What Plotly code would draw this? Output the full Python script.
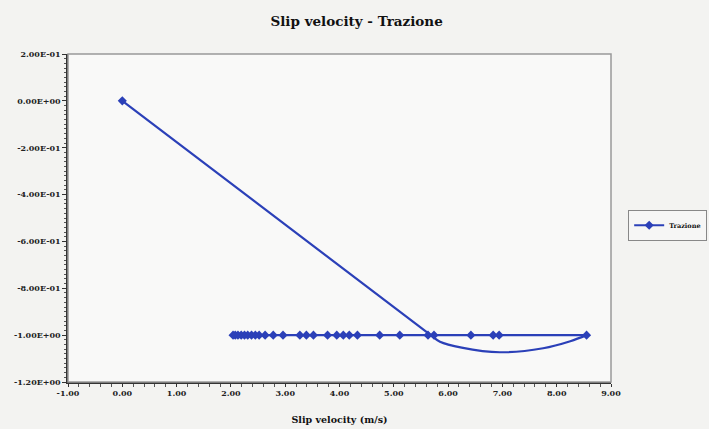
import plotly.graph_objects as go

# Diagonal + smoothed dip
curve_x = [0.00, 5.68, 5.85, 6.25, 6.95, 7.75, 8.25, 8.55]
curve_y = [0.00, -1.000, -1.028, -1.053, -1.073, -1.056, -1.026, -1.000]

# Points lying on the -1.00 line
flat_x = [8.55, 6.94, 6.83, 6.42, 5.74, 5.63, 5.11, 4.74, 4.33, 4.18, 4.07, 3.95,
          3.78, 3.52, 3.39, 3.27, 2.96, 2.78, 2.63, 2.52, 2.45, 2.38, 2.31, 2.25,
          2.19, 2.13, 2.08, 2.04]
flat_y = [-1.0] * len(flat_x)

x_tickvals = [-1, 0, 1, 2, 3, 4, 5, 6, 7, 8, 9]
x_ticktext = ["-1.00", "0.00", "1.00", "2.00", "3.00", "4.00", "5.00", "6.00", "7.00", "8.00", "9.00"]
y_tickvals = [0.2, 0.0, -0.2, -0.4, -0.6, -0.8, -1.0, -1.2]
y_ticktext = ["2.00E-01", "0.00E+00", "-2.00E-01", "-4.00E-01", "-6.00E-01",
              "-8.00E-01", "-1.00E+00", "-1.20E+00"]

BLUE = "#2b40b8"
SERIF = "DejaVu Serif"
PAPER = "#f3f3f1"

fig = go.Figure()
fig.add_trace(go.Scatter(x=curve_x, y=curve_y, mode="lines",
                         line=dict(color=BLUE, width=2.2, shape="spline", smoothing=1),
                         showlegend=False, hoverinfo="skip"))
fig.add_trace(go.Scatter(x=flat_x, y=flat_y, mode="lines+markers", name="Trazione",
                         line=dict(color=BLUE, width=2.2),
                         marker=dict(symbol="diamond", size=7, color=BLUE)))
fig.add_trace(go.Scatter(x=curve_x[:1], y=curve_y[:1], mode="markers",
                         marker=dict(symbol="diamond", size=7, color=BLUE),
                         showlegend=False))

tickfont = dict(family=SERIF, size=8, color="#222222", weight="bold")

fig.update_layout(
    width=709, height=429,
    margin=dict(l=68, r=98, t=54, b=47, autoexpand=False),
    paper_bgcolor=PAPER,
    plot_bgcolor="#f9f9f8",
    title=dict(text="Slip velocity - Trazione", x=0.503, xanchor="center", y=0.951, yanchor="middle",
               font=dict(family=SERIF, size=13.5, color="#111111", weight="bold")),
    showlegend=True,
    legend=dict(xref="container", yref="container", x=0.886, y=0.475,
                xanchor="left", yanchor="middle",
                bgcolor="#f6f6f5", bordercolor="#888888", borderwidth=1,
                font=dict(family=SERIF, size=6.5, color="#111111", weight="bold"),
                itemwidth=30, tracegroupgap=0),
    xaxis=dict(range=[-1, 9], tickvals=x_tickvals, ticktext=x_ticktext, automargin=False,
               showgrid=False, zeroline=False, showline=True, linecolor="#333333", linewidth=1.5,
               ticks="outside", ticklen=3, tickcolor="#333333", tickfont=tickfont,
               minor=dict(dtick=0.2, ticks="outside", ticklen=3, tickcolor="#555555"),
               title=dict(text="Slip velocity (m/s)", standoff=19,
                          font=dict(family=SERIF, size=9.5, color="#111111", weight="bold"))),
    yaxis=dict(range=[-1.2, 0.2], tickvals=y_tickvals, ticktext=y_ticktext, automargin=False,
               showgrid=False, zeroline=False, showline=True, linecolor="#333333", linewidth=1.5,
               ticks="outside", ticklen=4, tickcolor="#333333", tickfont=tickfont,
               minor=dict(dtick=0.02, ticks="outside", ticklen=2, tickcolor="#555555")),
    shapes=[dict(type="rect", xref="paper", yref="paper", x0=0, x1=1, y0=0, y1=1,
                 line=dict(color="#999999", width=1.5), layer="above")],
)

fig.write_html("out.html", config={"displayModeBar": False},
               post_script="document.body.style.margin='0';document.body.style.background='%s';" % PAPER)
